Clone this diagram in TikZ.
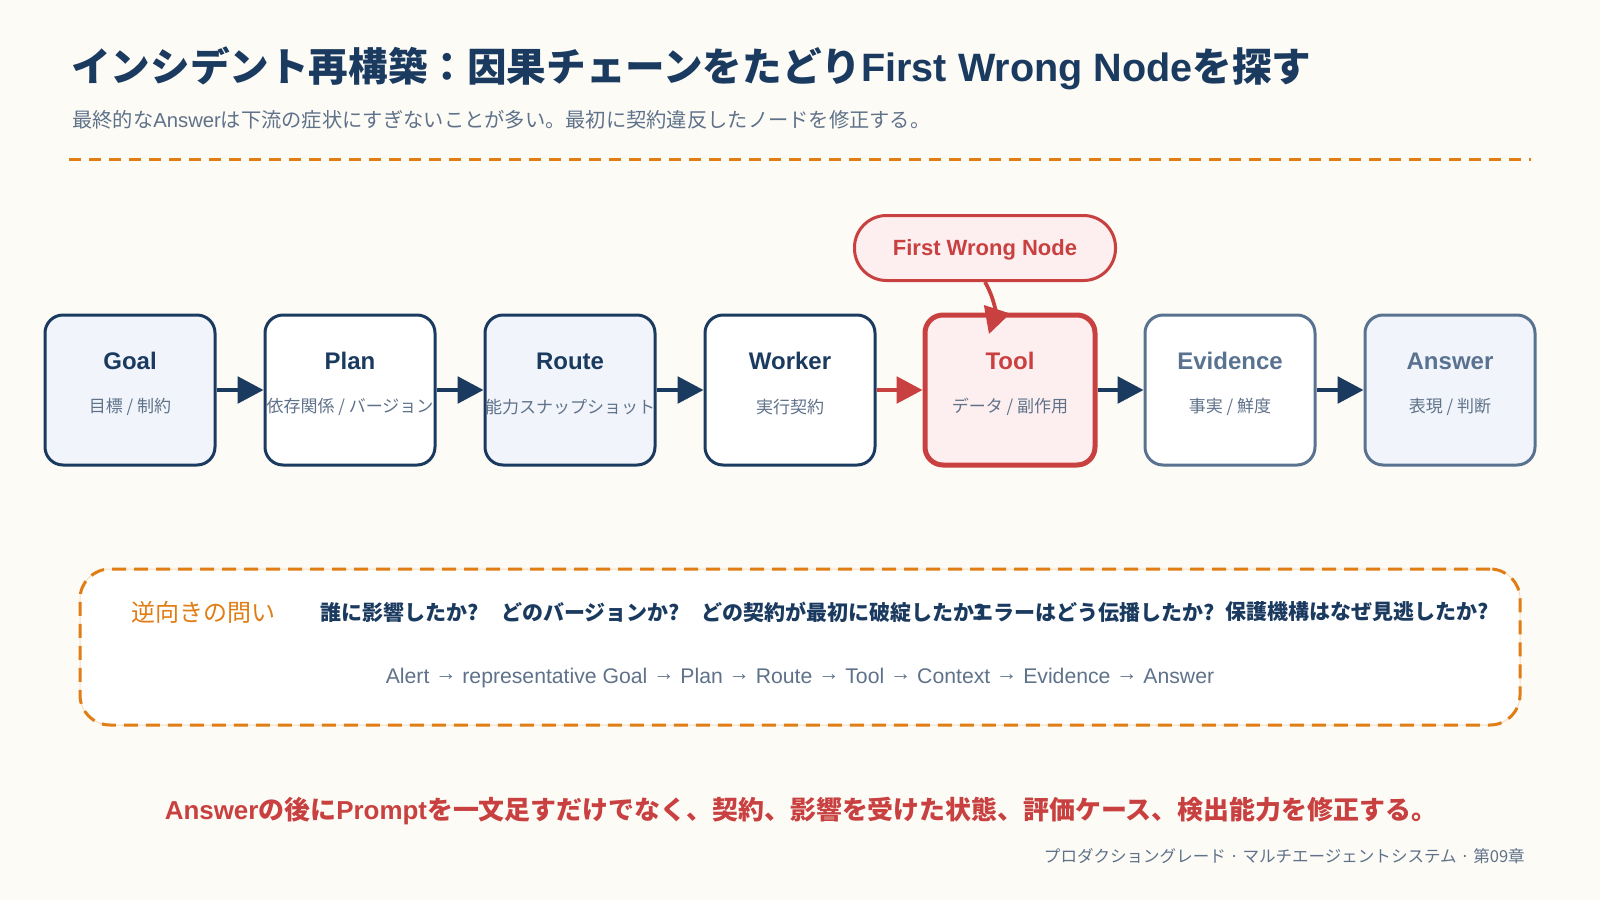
\documentclass[tikz,border=0pt]{standalone}
\usepackage{fontspec}
\setmainfont{Liberation Sans}
\newfontfamily\jp{Noto Sans CJK JP}
\usetikzlibrary{arrows.meta}
\definecolor{paper}{HTML}{FDFBF6}
\definecolor{ink}{HTML}{1B3A5F}
\definecolor{slate}{HTML}{587290}
\definecolor{mute}{HTML}{5F728A}
\definecolor{pale}{HTML}{F1F5FB}
\definecolor{alert}{HTML}{C8403F}
\definecolor{blush}{HTML}{FDEFEF}
\definecolor{accent}{HTML}{E07D14}
\definecolor{peach}{HTML}{F8DDBF}
\newcommand\thenarrow{\raisebox{0.12em}{→}}
\begin{document}
\begin{tikzpicture}[x=0.75pt, y=0.75pt,
boxnode/.style={rectangle, rounded corners=13.5pt, minimum width=127.5pt, minimum height=112.5pt, inner sep=0pt, line width=2.25pt, draw=ink, fill=white},
softbox/.style={fill=pale},
quietbox/.style={draw=slate},
faultbox/.style={draw=alert, fill=blush, line width=3.75pt},
boxtitle/.style={font=\fontsize{18}{20}\selectfont\bfseries, text=ink},
boxsub/.style={font=\jp\fontsize{12.75}{15}\selectfont, text=mute},
flowarrow/.style={draw=ink, line width=2.8pt, -{Triangle[length=19.5pt, width=20pt]}},
flag/.style={rectangle, rounded corners=24pt, minimum width=195.75pt, minimum height=48.75pt, text depth=0pt, draw=alert, fill=blush, line width=2.25pt, text=alert, font=\fontsize{16.5}{18}\selectfont\bfseries},
qframe/.style={rectangle, rounded corners=22.5pt, minimum width=1080pt, minimum height=117pt, fill=white, draw=peach, line width=0.75pt, postaction={draw=accent, line width=2.25pt, dash pattern=on 10.5pt off 6pt}},
question/.style={anchor=west, inner sep=0pt, text=ink, font=\jp\fontsize{15.75}{18}\selectfont\bfseries}]
\fill[paper] (0,0) rectangle (1600,-900);
\useasboundingbox (0,0) rectangle (1600,-900);
\node[anchor=west, inner sep=0pt, text=ink, font=\fontsize{29.7}{33}\selectfont\bfseries] (head) at (71,-68) {{\jp インシデント再構築：因果チェーンをたどり}First Wrong Node{\jp を探す}};
\node[anchor=west, inner sep=0pt, text=mute, font=\fontsize{15.2}{18}\selectfont] (lead) at (72,-120) {{\jp 最終的な}Answer{\jp は下流の症状にすぎないことが多い。最初に契約違反したノードを修正する。}};
\draw[accent, line width=2.25pt, dash pattern=on 9pt off 6pt] (69,-159) -- (1531,-159);
\node[boxnode, softbox] (goal) at (130,-390) {};
\node[boxnode] (plan) at (350,-390) {};
\node[boxnode, softbox] (route) at (570,-390) {};
\node[boxnode] (worker) at (790,-390) {};
\node[boxnode, faultbox] (tool) at (1010,-390) {};
\node[boxnode, quietbox] (evidence) at (1230,-390) {};
\node[boxnode, quietbox, softbox] (answer) at (1450,-390) {};
\node[boxtitle] (goalT) at (130,-361) {Goal};
\node[boxtitle] (planT) at (350,-361) {Plan};
\node[boxtitle] (routeT) at (570,-361) {Route};
\node[boxtitle] (workerT) at (790,-361) {Worker};
\node[boxtitle, text=alert] (toolT) at (1010,-361) {Tool};
\node[boxtitle, text=slate] (evidenceT) at (1230,-361) {Evidence};
\node[boxtitle, text=slate] (answerT) at (1450,-361) {Answer};
\node[boxsub] (goalS) at (130,-407) {目標 / 制約};
\node[boxsub] (planS) at (350,-407) {依存関係 / バージョン};
\node[boxsub] (routeS) at (570,-407) {能力スナップショット};
\node[boxsub] (workerS) at (790,-407) {実行契約};
\node[boxsub] (toolS) at (1010,-407) {データ / 副作用};
\node[boxsub] (evidenceS) at (1230,-407) {事実 / 鮮度};
\node[boxsub] (answerS) at (1450,-407) {表現 / 判断};
\draw (goal) edge[flowarrow] (plan);
\draw (plan) edge[flowarrow] (route);
\draw (route) edge[flowarrow] (worker);
\draw (worker) edge[flowarrow, draw=alert] (tool);
\draw (tool) edge[flowarrow] (evidence);
\draw (evidence) edge[flowarrow] (answer);
\node[flag] (callout) at (985,-248) {First Wrong Node};
\coordinate (hit) at (989,-334);
\draw (callout.south) edge[flowarrow, draw=alert, out=-60, in=72] (hit);
\node[qframe] (qbox) at (800,-647) {};
\node[anchor=west, inner sep=0pt, text=accent, font=\jp\fontsize{18}{20}\selectfont] (qhead) at (131,-612) {逆向きの問い};
\node[question] (q1) at (320,-612) {誰に影響したか?};
\node[question] (q2) at (501,-612) {どのバージョンか?};
\node[question] (q3) at (701,-612) {どの契約が最初に破綻したか?};
\node[question] (q4) at (972,-612) {エラーはどう伝播したか?};
\node[question] (q5) at (1225,-612) {保護機構はなぜ見逃したか?};
\node[text=mute, font=\fontsize{15.9}{18}\selectfont] (trace) at (800,-678) {Alert \thenarrow{} representative Goal \thenarrow{} Plan \thenarrow{} Route \thenarrow{} Tool \thenarrow{} Context \thenarrow{} Evidence \thenarrow{} Answer};
\node[text=alert, font=\fontsize{19.45}{22}\selectfont\bfseries] (fix) at (801,-811) {Answer{\jp の後に}Prompt{\jp を一文足すだけでなく、契約、影響を受けた状態、評価ケース、検出能力を修正する。}};
\node[anchor=east, inner sep=0pt, text=mute, font=\jp\fontsize{12.4}{14}\selectfont] (foot) at (1525,-856) {プロダクショングレード · マルチエージェントシステム · 第09章};
\end{tikzpicture}
\end{document}
